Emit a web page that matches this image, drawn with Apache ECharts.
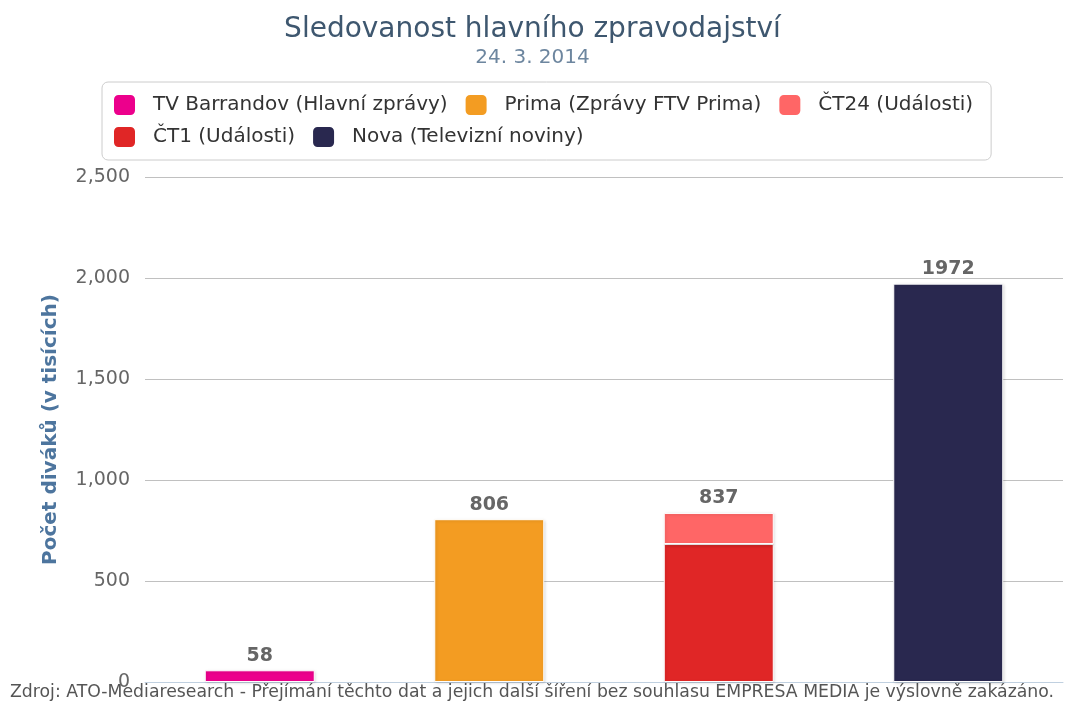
<!DOCTYPE html>
<html>
<head>
<meta charset="utf-8">
<script src="https://cdn.jsdelivr.net/npm/echarts@6/dist/echarts.min.js"></script>
<style>
html, body { margin: 0; padding: 0; background: #fff; }
#chart { width: 1065px; height: 701px; }
</style>
</head>
<body>
<div id="chart"></div>
<script>
// stanice (kategorie) - na ose x se nezobrazuji
var categories = ['TV Barrandov', 'Prima', 'ČT', 'Nova'];
var seriesNames = ['TV Barrandov (Hlavní zprávy)', 'Prima (Zprávy FTV Prima)', 'ČT24 (Události)', 'ČT1 (Události)', 'Nova (Televizní noviny)'];
var barrandov = [58, null, null, null];
var prima = [null, 806, null, null];
var ct24 = [null, null, 154, null];
var ct1 = [null, null, 683, null];
var nova = [null, null, null, 1972];
var totals = [58, 806, 837, 1972];
var yTicks = [0, 500, 1000, 1500, 2000, 2500];
var colors = ['#EC008C', '#F39C22', '#FF6666', '#E02626', '#29284F'];

/*==========================================
 * poradi ve stacku: ČT1 dole, ČT24 nahore
 */
var stackOrder = [barrandov, prima, ct1, ct24, nova];
var stackNames = [seriesNames[0], seriesNames[1], seriesNames[3], seriesNames[2], seriesNames[4]];
var stackColors = [colors[0], colors[1], colors[3], colors[2], colors[4]];

function isTop(idx, cat) {
    for (var k = idx + 1; k < stackOrder.length; k++) {
        if (stackOrder[k][cat] != null) return false;
    }
    return stackOrder[idx][cat] != null;
}

var series = [];
for (var i = 0; i < stackOrder.length; i++) {
    var _data = [];
    for (var c = 0; c < categories.length; c++) {
        var v = stackOrder[i][c];
        _data.push({ value: v, label: { show: isTop(i, c) } });
    }
    series.push({
        name: stackNames[i],
        type: 'bar',
        stack: 'total',
        barWidth: 110,
        data: _data,
        itemStyle: {
            color: stackColors[i],
            borderColor: '#fff',
            borderWidth: 1,
            shadowColor: 'rgba(0,0,0,0.15)',
            shadowBlur: 3,
            shadowOffsetX: 1,
            shadowOffsetY: 1
        },
        label: {
            position: 'top',
            distance: 5,
            fontFamily: 'DejaVu Sans',
            fontSize: 19,
            fontWeight: 'bold',
            color: '#666',
            formatter: function(p) { return totals[p.dataIndex]; }
        }
    });
}

var chart = echarts.init(document.getElementById('chart'));
chart.setOption({
    animation: false,
    color: colors,
    title: {
        text: 'Sledovanost hlavního zpravodajství',
        subtext: '24. 3. 2014',
        left: 'center',
        top: 11,
        itemGap: 4,
        textStyle: { fontFamily: 'DejaVu Sans', fontSize: 28, fontWeight: 'normal', color: '#3E576F' },
        subtextStyle: { fontFamily: 'DejaVu Sans', fontSize: 20, color: '#6D869F' }
    },
    legend: {
        data: seriesNames,
        left: 102,
        top: 82,
        width: 890,
        padding: [11, 10, 11, 10],
        borderColor: '#ccc',
        borderWidth: 1,
        borderRadius: 6,
        itemWidth: 23,
        itemHeight: 22,
        itemGap: 8,
        icon: 'roundRect',
        textStyle: {
            fontFamily: 'DejaVu Sans',
            fontSize: 20,
            lineHeight: 22,
            color: '#333',
            padding: [0, 8, 0, 12]
        }
    },
    grid: { left: 145, right: 2, top: 177, bottom: 19 },
    xAxis: {
        type: 'category',
        data: categories,
        axisLine: { lineStyle: { color: '#C0D0E0' } },
        axisTick: { show: false },
        axisLabel: { show: false }
    },
    yAxis: {
        type: 'value',
        min: yTicks[0],
        max: yTicks[yTicks.length - 1],
        interval: 500,
        name: 'Počet diváků (v tisících)',
        nameLocation: 'middle',
        nameGap: 84,
        nameTextStyle: { fontFamily: 'DejaVu Sans', fontSize: 20, fontWeight: 'bold', color: '#4D759E' },
        axisLabel: {
            fontFamily: 'DejaVu Sans',
            fontSize: 19,
            color: '#666',
            margin: 15,
            formatter: function(v) { return v.toString().replace(/\B(?=(\d{3})+(?!\d))/g, ','); }
        },
        splitLine: { lineStyle: { color: '#C0C0C0' } }
    },
    graphic: [{
        type: 'text',
        left: 10,
        top: 684,
        style: {
            text: 'Zdroj: ATO-Mediaresearch - Přejímání těchto dat a jejich další šíření bez souhlasu EMPRESA MEDIA je výslovně zakázáno.',
            fontFamily: 'DejaVu Sans',
            fontSize: 17.3,
            fill: '#555'
        }
    }],
    series: series
});
</script>
</body>
</html>
